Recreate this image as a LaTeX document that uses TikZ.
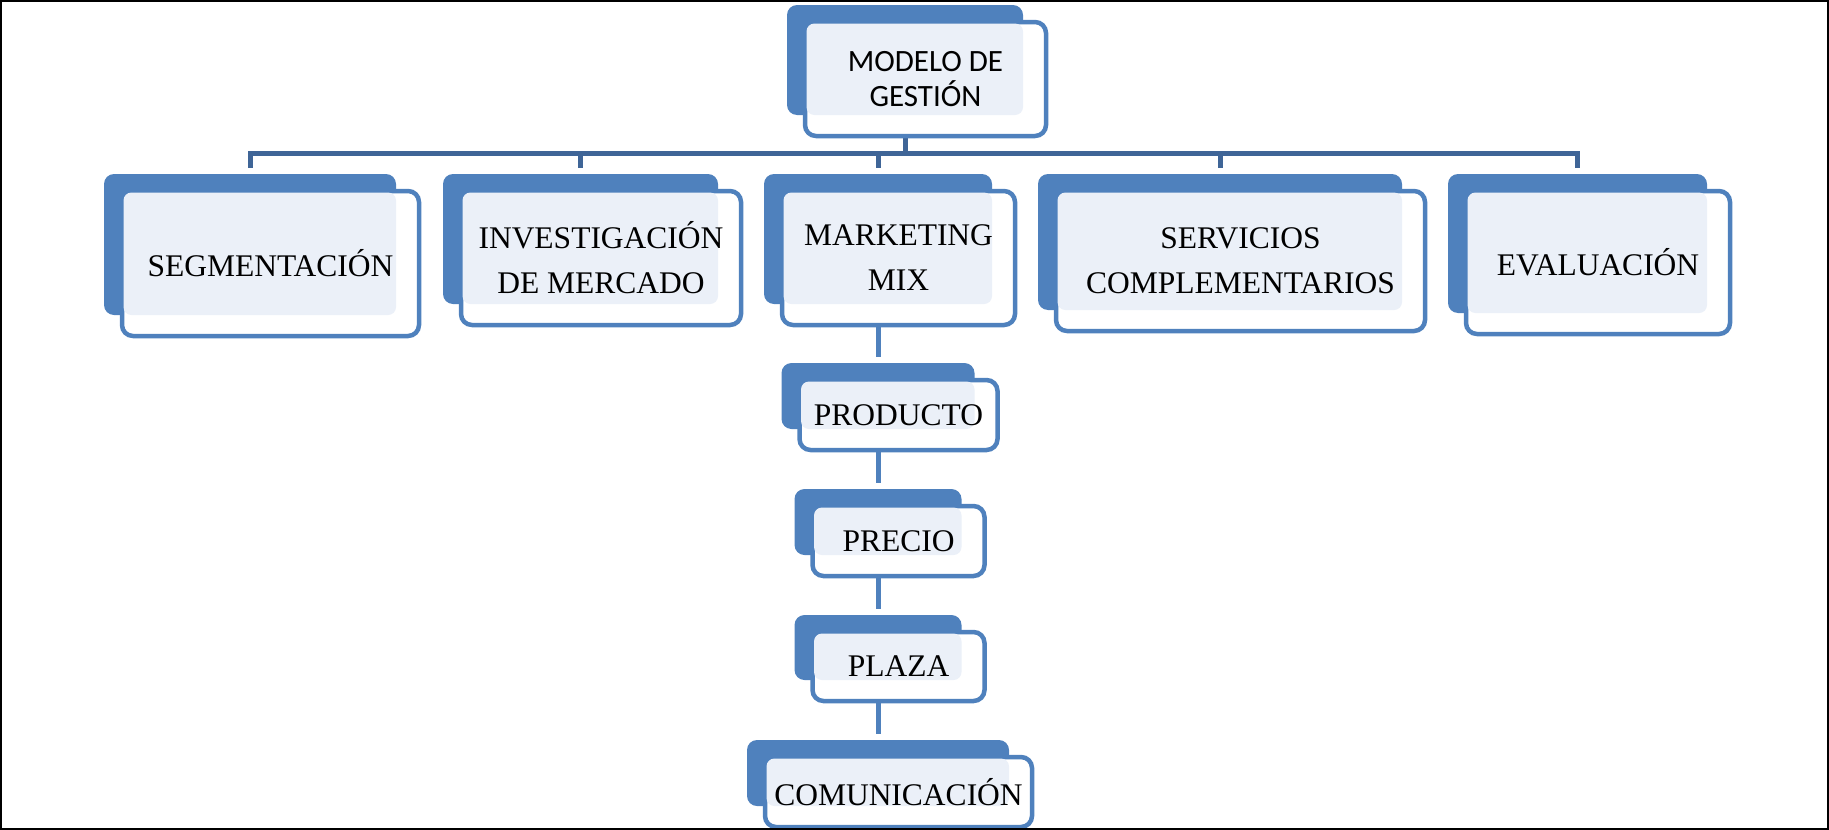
\documentclass[tikz,border=0pt]{standalone}
\usepackage{fontspec}
\setmainfont{Liberation Serif}
\newfontfamily\carlito{Carlito}
\usetikzlibrary{positioning,calc,backgrounds}

\definecolor{azul}{HTML}{4F81BD}
\definecolor{azulclaro}{HTML}{EBF0F8}
\definecolor{azulosc}{HTML}{3F6597}

% back box, front box, light panel, label
\newcommand{\tarjeta}[5][]{%
  \node[trasera, minimum width=#3, minimum height=#4, #1] (#2) {};
  \node[delantera, minimum width=#3+5, minimum height=#4+4] (#2-f) at ($(#2)+(20.5,19)$) {};
  \fill[claro] ($(#2-f.north west)+(1.5,1.5)$) rectangle (#2.south east);
  \node[rotulo] (#2-t) at (#2-f) {#5};
}

\begin{document}
\begin{tikzpicture}
[x=1pt,y=-1pt,
trasera/.style={fill=azul, draw=none, rounded corners=10pt, inner sep=0pt, outer sep=0pt},
delantera/.style={fill=white, draw=azul, line width=4.5pt, rounded corners=11pt, inner sep=0pt, outer sep=0pt},
claro/.style={fill=azulclaro, rounded corners=8pt},
rotulo/.style={font=\fontsize{31.5}{45}\selectfont, align=center, inner sep=0pt},
barra/.style={draw=azulosc, line width=5pt},
cadena/.style={draw=azul, line width=5pt}]
\useasboundingbox (0,0) rectangle (1829,830);

\begin{scope}[rotulo/.append style={font=\carlito\fontsize{31}{35}\selectfont}]
\tarjeta[at={(905,60)}]{modelo}{236}{110}{MODELO DE\\GESTIÓN}
\end{scope}

\tarjeta[at={(250,244.5)}]{seg}{292}{141}{SEGMENTACIÓN}
\tarjeta[at={(580.5,239)}]{inv}{275}{130}{INVESTIGACIÓN\\DE MERCADO}
\tarjeta[at={(878,239)}]{mkt}{228}{130}{MARKETING\\MIX}
\tarjeta[at={(1220,242)}]{serv}{364}{136}{SERVICIOS\\COMPLEMENTARIOS}
\tarjeta[at={(1577.5,243.5)}]{eval}{259}{139}{EVALUACIÓN}

\tarjeta[below=59pt of mkt]{prod}{193}{66}{PRODUCTO}
\tarjeta[below=60pt of prod]{prec}{167}{66}{PRECIO}
\tarjeta[below=60pt of prec]{plaza}{167}{65}{PLAZA}
\tarjeta[below=60pt of plaza]{com}{262}{66}{COMUNICACIÓN}

\coordinate (riel) at ($(modelo.south)+(0,38)$);
\begin{scope}[on background layer]
  \draw[barra] (modelo.south) -- (riel);
  \foreach \h in {seg,inv,mkt,serv,eval}
    \draw[barra, shorten >=6pt] (riel) -| (\h.north);
  \draw[cadena, shorten >=6pt] (mkt.south) -- (prod.north);
  \draw[cadena, shorten >=6pt] (prod.south) -- (prec.north);
  \draw[cadena, shorten >=6pt] (prec.south) -- (plaza.north);
  \draw[cadena, shorten >=6pt] (plaza.south) -- (com.north);
\end{scope}

\draw[line width=2pt] (1,1) rectangle (1828,829);
\end{tikzpicture}
\end{document}
